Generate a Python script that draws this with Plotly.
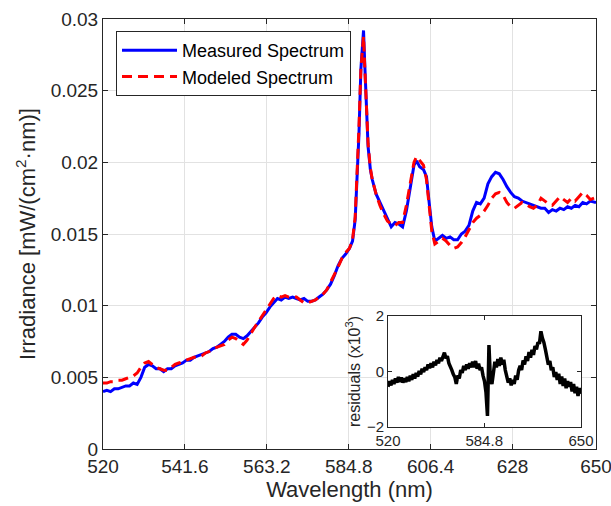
import plotly.graph_objects as go

# Shared wavelength grid (nm) for measured and modeled spectra
wavelength = (list(range(520, 586))
              + [585.8, 586.5, 587, 587.5, 588, 588.4, 588.7, 589, 589.4, 589.9, 590.5, 591]
              + list(range(592, 602))
              + [602, 602.7, 603.5, 604.5, 605.3, 606, 606.7, 607.5]
              + [608.5 + k for k in range(42)]
              + [650])

# Measured spectrum (blue), mW/(cm^2 nm)
measured = [0.0040, 0.0041, 0.0040, 0.0042, 0.0042, 0.0043, 0.0044, 0.0044, 0.0046, 0.0045,
            0.0050, 0.0057, 0.0059, 0.0058, 0.0056, 0.0056, 0.0054, 0.0056, 0.0056, 0.0058,
            0.0059, 0.0060, 0.0062, 0.0062, 0.0064, 0.0065, 0.0066, 0.0067, 0.0068, 0.0070,
            0.0071, 0.0073, 0.0075, 0.0078, 0.0080, 0.0080, 0.0078, 0.0077, 0.0079, 0.0082,
            0.0085, 0.0088, 0.0092, 0.0095, 0.0099, 0.0102, 0.0105, 0.0104, 0.0106, 0.0105,
            0.0106, 0.0105, 0.0104, 0.0105, 0.0103, 0.0103, 0.0104, 0.0106, 0.0108, 0.0111,
            0.0115, 0.0121, 0.0128, 0.0133, 0.0136, 0.0140,
            0.0145, 0.0160, 0.0185, 0.0220, 0.0265, 0.0285, 0.0292, 0.0270, 0.0240, 0.0211, 0.0195, 0.0188,
            0.0178, 0.0172, 0.0166, 0.0160, 0.0155, 0.0158, 0.0157, 0.0155, 0.0166, 0.0182,
            0.0198, 0.0201, 0.0197, 0.0195, 0.0190, 0.0172, 0.0155, 0.0145,
            0.0147, 0.0149, 0.0147, 0.0148, 0.0146, 0.0146, 0.0150, 0.0152, 0.0156, 0.0166,
            0.0172, 0.0171, 0.0175, 0.0185, 0.0190, 0.0193, 0.0192, 0.0188, 0.0183, 0.0179,
            0.0176, 0.0175, 0.0173, 0.0172, 0.0171, 0.0170, 0.0169, 0.0168, 0.0168, 0.0165,
            0.0167, 0.0166, 0.0168, 0.0167, 0.0169, 0.0168, 0.0170, 0.0169, 0.0172, 0.0171,
            0.0173, 0.0172,
            0.0172]

# Modeled spectrum (red dashed)
modeled = [0.0046, 0.0046, 0.0047, 0.0047, 0.0048, 0.0048, 0.0049, 0.0050, 0.0051, 0.0053,
           0.0057, 0.0060, 0.0061, 0.0059, 0.0057, 0.0056, 0.0055, 0.0055, 0.0057, 0.0059,
           0.0060, 0.0061, 0.0062, 0.0063, 0.0064, 0.0064, 0.0065, 0.0067, 0.0068, 0.0070,
           0.0071, 0.0072, 0.0073, 0.0076, 0.0078, 0.0077, 0.0075, 0.0073, 0.0076, 0.0081,
           0.0085, 0.0089, 0.0093, 0.0097, 0.0101, 0.0105, 0.0107, 0.0106, 0.0107, 0.0106,
           0.0106, 0.0106, 0.0104, 0.0102, 0.0102, 0.0103, 0.0104, 0.0106, 0.0108, 0.0111,
           0.0116, 0.0121, 0.0127, 0.0133, 0.0137, 0.0140,
           0.0146, 0.0162, 0.0190, 0.0225, 0.0265, 0.0283, 0.0288, 0.0268, 0.0240, 0.0213, 0.0196, 0.0188,
           0.0178, 0.0170, 0.0164, 0.0159, 0.0157, 0.0156, 0.0158, 0.0158, 0.0170, 0.0186,
           0.0200, 0.0204, 0.0201, 0.0198, 0.0188, 0.0168, 0.0152, 0.0143,
           0.0145, 0.0147, 0.0145, 0.0142, 0.0140, 0.0141, 0.0144, 0.0148, 0.0153, 0.0158,
           0.0161, 0.0163, 0.0166, 0.0170, 0.0175, 0.0178, 0.0179, 0.0177, 0.0172, 0.0169,
           0.0168, 0.0170, 0.0172, 0.0171, 0.0169, 0.0168, 0.0170, 0.0175, 0.0173, 0.0171,
           0.0170, 0.0173, 0.0176, 0.0174, 0.0172, 0.0175, 0.0173, 0.0176, 0.0179, 0.0177,
           0.0174, 0.0175,
           0.0175]

# Residuals (x10^3) on a 1 nm grid
res_wl = list(range(520, 651))
residuals = [-0.55, -0.35, -0.5, -0.3, -0.45, -0.25, -0.4, -0.2, -0.38, -0.22,
             -0.4, -0.25, -0.38, -0.2, -0.35, -0.15, -0.3, -0.1, -0.25, -0.05,
             -0.18, 0.02, -0.1, 0.1, -0.02, 0.15, 0.05, 0.25, 0.12, 0.3,
             0.15, 0.35, 0.22, 0.42, 0.3, 0.5, 0.38, 0.55, 0.68, 0.48,
             0.55, 0.3, 0.2, 0.05, -0.1, -0.2, -0.45, -0.15, -0.25, 0.05,
             -0.05, 0.2, 0.05, 0.25, 0.1, 0.3, 0.15, 0.35, 0.15, 0.38,
             0.1, 0.28, 0.05, 0.15, -0.15, -0.35, -0.75, -1.6, 0.95, -0.3,
             -0.45, 0.1, 0.35, 0.15, 0.45, 0.2, 0.5, 0.25, 0.42, 0.05,
             -0.15, -0.4, -0.25, -0.5, -0.3, -0.45, -0.15, -0.3, 0.05, 0.2,
             0.05, 0.4, 0.25, 0.55, 0.38, 0.7, 0.5, 0.78, 0.6, 0.92,
             0.8, 1.05, 1.0, 1.45, 1.2, 1.05, 0.8, 0.55, 0.25, 0.38,
             0.05, 0.15, -0.2, -0.02, -0.3, -0.08, -0.45, -0.18, -0.52, -0.25,
             -0.6, -0.35, -0.55, -0.38, -0.72, -0.45, -0.78, -0.55, -0.88, -0.6,
             -0.8]

x_ticks = [520, 541.6, 563.2, 584.8, 606.4, 628, 650]
x_ticktext = ["520", "541.6", "563.2", "584.8", "606.4", "628", "650"]
y_ticks = [0, 0.005, 0.01, 0.015, 0.02, 0.025, 0.03]
y_ticktext = ["0", "0.005", "0.01", "0.015", "0.02", "0.025", "0.03"]
inset_x_ticks = [520, 584.8, 650]
inset_x_text = ["520", "584.8", "650"]
inset_y_ticks = [-2, 0, 2]

AX = "#262626"
GRID = "#e2e2e2"
FONT = "Liberation Sans, Arial, sans-serif"

fig = go.Figure()
fig.add_trace(go.Scatter(x=wavelength, y=measured, mode="lines", name="Measured Spectrum",
                         line=dict(color="#0000ff", width=3), xaxis="x", yaxis="y"))
fig.add_trace(go.Scatter(x=wavelength, y=modeled, mode="lines", name="Modeled Spectrum",
                         line=dict(color="#ff0000", width=3, dash="10px,6px"), xaxis="x", yaxis="y"))
fig.add_trace(go.Scatter(x=res_wl, y=residuals, mode="lines", showlegend=False,
                         line=dict(color="#000000", width=3.5), xaxis="x2", yaxis="y2"))

W, H = 611, 506
L, R, T, B = 103, 15, 19, 57
pw = W - L - R
ph = H - T - B


def fx(px):
    return (px - L) / pw


def fy(py):
    return (H - B - py) / ph


common = dict(zeroline=False, showline=True, linecolor=AX, linewidth=1, mirror="ticks",
              ticks="inside", tickcolor=AX, automargin=False, ticklabeloverflow="allow")

fig.update_layout(
    width=W, height=H,
    margin=dict(l=L, r=R, t=T, b=B, autoexpand=False),
    paper_bgcolor="white", plot_bgcolor="white",
    font=dict(family=FONT, color=AX, size=19),
    xaxis=dict(range=[520, 650], tickvals=x_ticks, ticktext=x_ticktext, domain=[0, 1],
               showgrid=True, gridcolor=GRID, gridwidth=1, ticklen=5, tickfont=dict(size=19),
               title=dict(text="Wavelength (nm)", font=dict(size=22), standoff=5), **common),
    yaxis=dict(range=[0, 0.03], tickvals=y_ticks, ticktext=y_ticktext, domain=[0, 1],
               showgrid=True, gridcolor=GRID, gridwidth=1, ticklen=5, tickfont=dict(size=19),
               title=dict(text="Irradiance [mW/(cm<sup>2</sup>·nm)]", font=dict(size=22), standoff=8),
               **common),
    xaxis2=dict(range=[520, 650], tickvals=inset_x_ticks, ticktext=inset_x_text,
                domain=[fx(388), fx(581)], anchor="y2", showgrid=False, ticklen=4,
                tickfont=dict(size=15), **common),
    yaxis2=dict(range=[-2, 2], tickvals=inset_y_ticks, domain=[fy(427), fy(316)], anchor="x2",
                showgrid=False, ticklen=4, tickfont=dict(size=15),
                title=dict(text="residuals (x10<sup>3</sup>)", font=dict(size=16), standoff=2), **common),
    legend=dict(x=fx(116), y=fy(31), xanchor="left", yanchor="top",
                bgcolor="white", bordercolor=AX, borderwidth=1,
                font=dict(size=18, color="#000000"), itemwidth=55, tracegroupgap=0),
    showlegend=True,
)

fig.write_html("out.html")
